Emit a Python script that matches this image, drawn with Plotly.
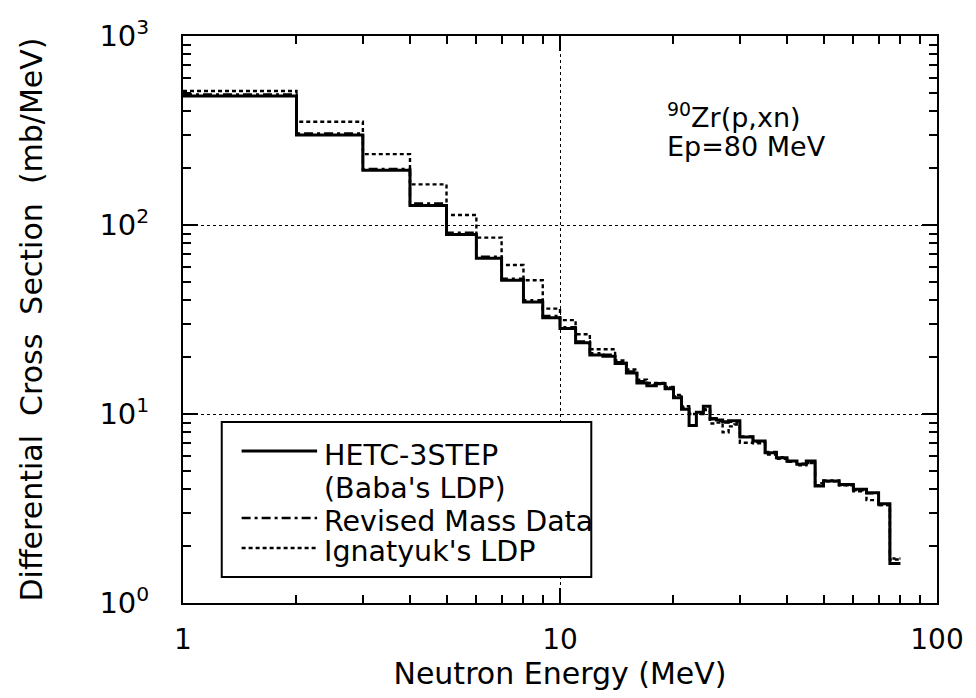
import plotly.graph_objects as go

# Bin edges (MeV)
edges = [1, 2, 3, 4, 5, 6, 7, 8, 9, 10, 11, 12, 13, 14, 15, 16, 17, 18, 19, 20,
         21, 22, 23, 24, 25, 26, 27, 28, 29, 30, 32.5, 35, 37.5, 40, 42.5, 45,
         47.5, 50, 55, 60, 65, 70, 75, 80]

hetc = [482, 299, 195, 127, 89, 66.7, 51, 39.1, 32.3, 28.3, 23.8, 20.5, 20.2,
        18.5, 16.5, 14.6, 14.1, 14.5, 13.6, 12.2, 10.6, 8.7, 10.2, 11.0, 9.4,
        9.3, 9.1, 9.2, 9.2, 7.55, 7.2, 6.24, 5.87, 5.64, 5.42, 5.64, 4.16,
        4.42, 4.24, 4.0, 3.83, 3.35, 1.62]

revised = [490, 305, 198, 130, 91, 68, 52, 40, 33, 28.8, 24.2, 21, 20.6,
           18.8, 16.8, 14.9, 14.3, 14.4, 13.8, 12.4, 10.8, 10.0, 10.1, 10.6, 9.5,
           9.2, 9.0, 9.1, 9.0, 7.6, 7.1, 6.3, 5.9, 5.6, 5.45, 5.5, 4.3,
           4.45, 4.2, 3.95, 3.8, 3.3, 1.72]

ignatyuk = [512, 352, 237, 164, 113, 85.7, 61.4, 51, 36.1, 31.4, 26.4, 22, 22,
            19.2, 17.2, 15.2, 14.6, 14.6, 13.9, 12.6, 11.0, 10.0, 10.0, 10.5, 8.9,
            9.0, 8.0, 8.6, 8.8, 7.05, 7.0, 6.1, 5.8, 5.6, 5.35, 5.5, 4.2,
            4.4, 4.2, 3.9, 3.5, 3.3, 1.7]

x_tickvals = [1, 10, 100]
x_ticktext = ["1", "10", "100"]
y_tickvals = [1, 10, 100, 1000]
y_ticktext = ["10<sup>0</sup>", "10<sup>1</sup>", "10<sup>2</sup>", "10<sup>3</sup>"]
x_minor = [2, 3, 4, 5, 6, 7, 8, 9, 20, 30, 40, 50, 60, 70, 80, 90]
y_minor = [2, 3, 4, 5, 6, 7, 8, 9, 20, 30, 40, 50, 60, 70, 80, 90,
           200, 300, 400, 500, 600, 700, 800, 900]

legend_labels = ["HETC-3STEP", "(Baba's LDP)", "Revised Mass Data", "Ignatyuk's LDP"]

FONT = "DejaVu Sans"
DOT = "4px,3px"
DASHDOT = "9px,4px,3px,4px"

def step(vals):
    return vals + [vals[-1]]

fig = go.Figure()
fig.add_trace(go.Scatter(x=edges, y=step(ignatyuk), mode="lines", line_shape="hv",
                         line=dict(color="black", width=2.4, dash=DOT),
                         name="Ignatyuk's LDP", showlegend=False))
fig.add_trace(go.Scatter(x=edges, y=step(revised), mode="lines", line_shape="hv",
                         line=dict(color="black", width=2.4, dash=DASHDOT),
                         name="Revised Mass Data", showlegend=False))
fig.add_trace(go.Scatter(x=edges, y=step(hetc), mode="lines", line_shape="hv",
                         line=dict(color="black", width=3),
                         name="HETC-3STEP", showlegend=False))

fig.update_layout(
    xaxis=dict(type="log", range=[0, 2], showline=True, linecolor="black", linewidth=2,
               mirror="ticks", ticks="inside", ticklen=15, tickwidth=1.6, tickcolor="black",
               tickvals=x_tickvals, ticktext=x_ticktext,
               tickfont=dict(family=FONT, size=28, color="black"),
               ticklabelstandoff=10,
               showgrid=True, gridcolor="black", gridwidth=1.2, griddash="dot",
               zeroline=False,
               title=dict(text="Neutron Energy (MeV)", standoff=6,
                          font=dict(family=FONT, size=30, color="black"))),
    yaxis=dict(type="log", range=[0, 3], showline=True, linecolor="black", linewidth=2,
               mirror="ticks", ticks="inside", ticklen=15, tickwidth=1.6, tickcolor="black",
               tickvals=y_tickvals, ticktext=y_ticktext,
               tickfont=dict(family=FONT, size=29, color="black"),
               ticklabelstandoff=26,
               showgrid=True, gridcolor="black", gridwidth=1.2, griddash="dot",
               zeroline=False,
               title=dict(text="Differential\u00a0 Cross\u00a0 Section\u00a0 (mb/MeV)", standoff=48,
                          font=dict(family=FONT, size=30, color="black"))),
    xaxis2=dict(type="log", range=[0, 2], overlaying="x", anchor="y", side="bottom",
                showline=False, mirror="ticks", ticks="inside", ticklen=8, tickwidth=1.6,
                tickcolor="black", tickvals=x_minor, showticklabels=False,
                showgrid=False, zeroline=False),
    yaxis2=dict(type="log", range=[0, 3], overlaying="y", anchor="x", side="left",
                showline=False, mirror="ticks", ticks="inside", ticklen=8, tickwidth=1.6,
                tickcolor="black", tickvals=y_minor, showticklabels=False,
                showgrid=False, zeroline=False),
)
# invisible helper trace so the minor-tick axes are drawn
fig.add_trace(go.Scatter(x=[1, 100], y=[1, 1000], xaxis="x2", yaxis="y2", mode="lines",
                         line=dict(width=0), hoverinfo="skip", showlegend=False, opacity=0))

# Legend drawn manually (paper coordinates)
L, R, T, B = 183, 942, 36, 603
def px(x):
    return (x - L) / (R - L)
def py(y):
    return (B - y) / (B - T)

shapes = [
    dict(type="rect", xref="paper", yref="paper", x0=px(222), x1=px(594), y0=py(577), y1=py(422),
         line=dict(color="black", width=2), fillcolor="white", layer="above"),
    dict(type="line", xref="paper", yref="paper", x0=px(242), x1=px(318), y0=py(451), y1=py(451),
         line=dict(color="black", width=3)),
    dict(type="line", xref="paper", yref="paper", x0=px(242), x1=px(318), y0=py(518), y1=py(518),
         line=dict(color="black", width=2.4, dash=DASHDOT)),
    dict(type="line", xref="paper", yref="paper", x0=px(242), x1=px(318), y0=py(548), y1=py(548),
         line=dict(color="black", width=2.4, dash=DOT)),
]
annotations = []
for lab, yy in zip(legend_labels, [455, 488, 521, 551]):
    annotations.append(dict(xref="paper", yref="paper", x=px(323), y=py(yy), text=lab,
                            showarrow=False, xanchor="left", yanchor="middle",
                            font=dict(family=FONT, size=28.5, color="black")))
annotations.append(dict(xref="paper", yref="paper", x=px(668), y=py(115),
                        text="<sup>90</sup>Zr(p,xn)", showarrow=False, xanchor="left",
                        yanchor="middle", font=dict(family=FONT, size=27, color="black")))
annotations.append(dict(xref="paper", yref="paper", x=px(668), y=py(146),
                        text="Ep=80 MeV", showarrow=False, xanchor="left",
                        yanchor="middle", font=dict(family=FONT, size=27, color="black")))

fig.update_layout(width=976, height=698, margin=dict(l=L, r=976 - R, t=T, b=698 - B),
                  paper_bgcolor="white", plot_bgcolor="white", showlegend=False,
                  shapes=shapes, annotations=annotations,
                  font=dict(family=FONT, color="black"))

fig.write_html("out.html")
